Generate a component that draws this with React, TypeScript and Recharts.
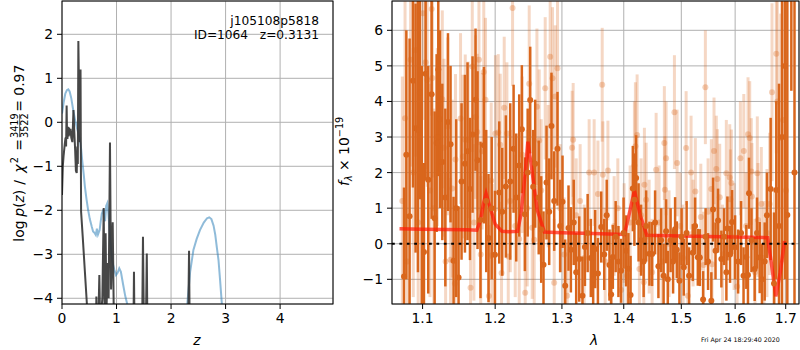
import React from "react";
import { ComposedChart, Line, Scatter, ErrorBar, XAxis, YAxis, CartesianGrid, ReferenceLine } from "recharts";

// ---- left panel: log p(z) ----
const zTicks = [0, 1, 2, 3, 4];
const logpTicks = [-4, -3, -2, -1, 0, 1, 2];

// template fit p(z), blue
const pzTemplate: [number, number][] = [
  [0.0, 0.2], [0.03, 0.45], [0.06, 0.65], [0.09, 0.73], [0.115, 0.75], [0.14, 0.7], [0.17, 0.55],
  [0.2, 0.32], [0.24, 0.05], [0.28, -0.15], [0.31, -0.3], [0.33, -0.42], [0.35, -0.6], [0.37, -0.86],
  [0.4, -1.2], [0.42, -1.46], [0.45, -1.75], [0.48, -2.0], [0.51, -2.2], [0.545, -2.37], [0.57, -2.48],
  [0.6, -2.52], [0.62, -2.56], [0.64, -2.42], [0.66, -2.55], [0.69, -2.45], [0.71, -2.25], [0.73, -2.08],
  [0.76, -1.98], [0.79, -2.25], [0.81, -1.9], [0.83, -1.84], [0.85, -2.05], [0.87, -2.4], [0.89, -2.75],
  [0.92, -3.15], [0.96, -3.35], [0.99, -3.47], [1.02, -3.42], [1.05, -3.32], [1.08, -3.4], [1.12, -3.68],
  [1.16, -3.95], [1.2, -4.15], [1.24, -4.7], [1.3, -6], [2.2, -6], [2.27, -4.6], [2.3, -4.1], [2.35, -3.4],
  [2.41, -2.9], [2.47, -2.65], [2.53, -2.45], [2.6, -2.28], [2.66, -2.18], [2.7, -2.16], [2.74, -2.2],
  [2.78, -2.35], [2.81, -2.55], [2.84, -2.85], [2.87, -3.13], [2.9, -3.6], [2.93, -4.1], [2.96, -4.6],
  [3.05, -6], [4.97, -6],
];

// chi2 based p(z), dark
const pzChi2: [number, number][] = [
  [0.0, -1.65], [0.015, -1.0], [0.03, -0.75], [0.05, -0.5], [0.065, -0.35], [0.075, -0.55], [0.085, 0.38],
  [0.092, -0.25], [0.1, -0.38], [0.11, -0.1], [0.12, -0.32], [0.13, -0.12], [0.14, -0.3], [0.155, -0.15],
  [0.17, -0.35], [0.19, -0.45], [0.21, 0.28], [0.225, -0.2], [0.24, -0.6], [0.255, -1.1], [0.27, -1.15],
  [0.28, -0.55], [0.29, -0.95], [0.3, 1.85], [0.31, 0.9], [0.32, -0.35], [0.33, -0.45], [0.34, 1.2],
  [0.35, -2.03], [0.38, -2.6], [0.42, -3.4], [0.46, -4.2], [0.5, -5.5], [0.61, -6], [0.63, -3.96],
  [0.645, -5], [0.67, -4.3], [0.685, -3.47], [0.7, -4.6], [0.74, -4.0], [0.765, -1.95], [0.78, -4.3],
  [0.8, -2.52], [0.815, -4.3], [0.84, -3.2], [0.855, -4.0], [0.88, -0.46], [0.9, -3.8], [0.93, -2.27],
  [0.95, -4.4], [0.97, -6], [1.3, -6], [1.32, -3.4], [1.34, -6], [1.46, -6], [1.485, -2.6], [1.505, -5],
  [1.535, -5], [1.555, -2.98], [1.575, -6], [2.3, -6], [2.33, -2.92], [2.35, -6], [4.97, -6],
];

// ---- right panel: spectrum ----
const lamTicks = [1.1, 1.2, 1.3, 1.4, 1.5, 1.6, 1.7];
const fluxTicks = [-1, 0, 1, 2, 3, 4, 5, 6];

// [lambda, flux, err]
const specMain: [number, number, number][] = [
  [1.0758, -0.92, 2.5], [1.0788, 2.5, 3.5], [1.083, 0.77, 5], [1.0874, 4.58, 3], [1.0908, 3.25, 3.5],
  [1.0939, 3.2, 4], [1.0965, 4.25, 3], [1.0989, 1.5, 3.5], [1.1018, -0.23, 2.5], [1.104, 4.78, 3],
  [1.1075, 1.8, 3.2], [1.112, 4.2, 3.5], [1.116, 0.72, 3], [1.1187, 2.83, 2.5], [1.1209, 4.9, 3],
  [1.1232, 3.5, 2.5], [1.1263, 2.3, 2.2], [1.1304, 1.3, 2.5], [1.134, 3.42, 2.5], [1.1375, 2.8, 2.2],
  [1.1416, -0.48, 1.8], [1.1453, 1.0, 2.5], [1.1485, -0.95, 2], [1.1526, 1.75, 2.2], [1.1573, 2.25, 2.5],
  [1.1609, 2.6, 2.5], [1.1643, 1.54, 2], [1.1679, 3.07, 2.2], [1.1721, 4.05, 2], [1.1749, 2.35, 2.5],
  [1.1791, 0.67, 2.2], [1.184, 2.77, 2.2], [1.1872, 1.2, 2], [1.1905, 0.16, 1.8], [1.195, 1.0, 2],
  [1.1997, -0.31, 1.8], [1.2059, 1.44, 2], [1.2102, 0.9, 1.8], [1.2155, 1.61, 2], [1.2219, 1.75, 2.2],
  [1.2268, 2.67, 1.8], [1.2307, 1.3, 1.8], [1.2351, 2.2, 2], [1.239, 3.22, 1.8], [1.2435, 0.83, 1.6],
  [1.2477, 2.0, 1.8], [1.2515, 4.04, 1.5], [1.256, 1.6, 1.6], [1.259, 2.25, 1.8], [1.2643, 1.3, 1.6],
  [1.2681, 0.4, 1.5], [1.2716, -0.59, 1.5], [1.2762, 1.72, 1.6], [1.2803, 0.9, 1.5], [1.2838, 3.31, 1.5],
  [1.288, 1.2, 1.4], [1.2931, 2.67, 1.6], [1.2973, 0.5, 1.3], [1.3009, 1.18, 1.3], [1.3051, -1.18, 1.3],
  [1.3103, 0.44, 1.2], [1.314, -0.17, 1.2], [1.3185, 0.6, 1.2], [1.3224, -0.8, 1.1], [1.3272, -0.43, 1.2],
  [1.3324, -1.46, 1.1], [1.3363, -0.09, 1.1], [1.3407, 0.3, 1.1], [1.3458, -0.4, 1.1], [1.3496, -1.0, 1.0],
  [1.3528, -0.15, 1.1], [1.3573, -0.84, 1.0], [1.3627, 0.47, 1.0], [1.3676, -0.3, 1.0], [1.3717, 0.8, 1.0],
  [1.3762, -0.6, 1.0], [1.379, -1.43, 1.0], [1.3818, -0.37, 0.9], [1.3865, 0.2, 1.0], [1.3911, -0.5, 1.0],
  [1.3955, -0.76, 0.9], [1.3997, 0.3, 1.0], [1.4039, -0.2, 1.0], [1.4078, -0.7, 1.0], [1.4115, -1.44, 1.1],
  [1.4153, 1.55, 1.2], [1.418, 1.24, 1.3], [1.4209, 1.85, 1.2], [1.4251, 0.6, 1.1], [1.4294, 0.1, 1.0],
  [1.4338, -0.5, 1.0], [1.4381, 0.5, 1.0], [1.4438, -0.28, 0.9], [1.4484, -0.29, 0.9], [1.4536, 0.6, 0.9],
  [1.4594, -0.63, 0.9], [1.4641, 0.1, 0.9], [1.4685, -0.9, 0.9], [1.4729, 0.35, 0.9], [1.4759, -1.0, 0.8],
  [1.4809, 0.1, 0.9], [1.4853, -0.5, 0.9], [1.4889, 0.41, 0.9], [1.4919, -0.17, 0.8], [1.4966, -1.04, 0.8],
  [1.5005, 0.2, 0.8], [1.5045, -0.66, 0.8], [1.5096, 0.3, 0.9], [1.5141, -0.9, 0.8], [1.5208, -0.25, 0.8],
  [1.525, 0.5, 0.8], [1.53, -0.38, 0.8], [1.5337, -0.39, 0.8], [1.5397, -1.57, 0.8], [1.5443, 0.2, 0.8],
  [1.5489, -0.5, 0.8], [1.555, -1.6, 0.8], [1.5582, 0.96, 0.9], [1.5628, -0.2, 0.8], [1.5676, 0.65, 0.9],
  [1.5738, -0.43, 0.8], [1.5789, 0.2, 0.8], [1.5833, -0.8, 0.8], [1.5852, 0.43, 0.9], [1.5903, -0.3, 0.8],
  [1.5941, 0.61, 0.9], [1.5999, -0.1, 0.9], [1.6057, -0.5, 0.9], [1.6114, 0.3, 0.9], [1.6162, -0.9, 0.8],
  [1.6216, -0.37, 0.9], [1.6248, -0.88, 0.9], [1.6268, 1.42, 1.0], [1.6316, 0.1, 0.9], [1.6379, -0.71, 0.9],
  [1.6425, 0.3, 1.0], [1.6478, -0.39, 1.0], [1.6523, -1.0, 1.0], [1.6577, -0.5, 1.1], [1.6622, 0.8, 1.2],
  [1.6696, 1.54, 2.0], [1.6763, -1.12, 2.0], [1.6809, 1.51, 2.5], [1.6864, 0.5, 4], [1.6925, 3.0, 5],
  [1.6986, 5.0, 6], [1.7033, 0.81, 7], [1.7115, 6.9, 2.6], [1.718, 2.0, 7],
];

// second spectrum, drawn faint
const specOther: [number, number, number][] = [
  [1.0736, 1.2, 3.5], [1.0771, 3.53, 3.3], [1.0801, -0.5, 3], [1.0843, 5.17, 3], [1.0878, 2.0, 3.5],
  [1.0908, 5.45, 3], [1.0942, 0.6, 3], [1.1005, 6.48, 3], [1.104, 5.1, 3], [1.1062, 4.6, 3],
  [1.1098, 1.5, 3], [1.112, 6.6, 3], [1.1129, 4.66, 2.8], [1.1149, 1.0, 2.8], [1.1196, 3.0, 2.5],
  [1.1263, 4.06, 2.5], [1.1286, 2.7, 2.5], [1.1308, -0.5, 2.5], [1.1337, 3.3, 2.5], [1.1375, -0.45, 2.3],
  [1.1398, 1.55, 2.5], [1.1435, -1.12, 2.2], [1.1443, 2.37, 2.4], [1.1512, 3.52, 2.4], [1.1545, 2.45, 2.3],
  [1.1577, 2.92, 2.4], [1.1619, 2.92, 2.2], [1.1651, -1.24, 2.2], [1.1675, 4.98, 2.4], [1.1698, 0.6, 2.2],
  [1.1721, 3.56, 2.3], [1.1745, 3.14, 2.2], [1.1769, 5.17, 2.4], [1.1794, -0.3, 2.2], [1.1815, 2.6, 2.2],
  [1.1837, 4.83, 2.3], [1.1862, 4.05, 2.3], [1.191, -1.47, 2.0], [1.1943, 1.77, 2.2], [1.1957, -0.32, 2.0],
  [1.2004, 3.1, 2.2], [1.2044, 3.13, 2.2], [1.2073, 2.78, 2], [1.2092, -0.82, 2], [1.2131, 3.82, 2],
  [1.217, 3.1, 2], [1.219, -0.36, 2], [1.2219, 1.2, 2], [1.2253, 6.63, 2.2], [1.2292, 0.5, 2],
  [1.2351, 0.13, 2], [1.2395, 2.5, 2.2], [1.244, -1.38, 2], [1.247, 1.0, 2.2], [1.25, 4.5, 2.2],
  [1.2545, 0.45, 2], [1.2575, 0.11, 2], [1.2616, 3.85, 2.2], [1.2651, 2.9, 2], [1.2681, 1.5, 2],
  [1.2742, 4.37, 2], [1.2787, 1.9, 2], [1.2818, 5.26, 2], [1.2854, 4.65, 2], [1.288, -1.1, 1.8],
  [1.2896, 4.14, 2], [1.2931, 4.93, 2], [1.2973, 1.0, 1.8], [1.3035, -0.3, 1.6], [1.3082, -1.46, 1.5],
  [1.316, 2.7, 1.6], [1.3176, 2.92, 1.6], [1.3224, 0.8, 1.6], [1.3287, 1.2, 1.6], [1.3351, -0.4, 1.5],
  [1.3431, 2.0, 1.5], [1.3512, 2.0, 1.5], [1.3573, 1.4, 1.5], [1.3643, 4.47, 1.6], [1.3654, 1.94, 1.5],
  [1.3692, -0.5, 1.5], [1.3737, 2.06, 1.4], [1.379, -1.0, 1.4], [1.384, 0.5, 1.4], [1.3901, 1.0, 1.4],
  [1.3956, -1.3, 1.3], [1.4006, 0.3, 1.4], [1.4056, -0.9, 1.3], [1.4107, 0.6, 1.6], [1.418, 2.2, 1.8],
  [1.4197, 2.74, 1.8], [1.4226, 3.06, 1.7], [1.4265, -0.71, 1.6], [1.4294, 0.8, 1.6], [1.4341, -1.08, 1.5],
  [1.4351, 1.66, 1.6], [1.4381, 1.24, 1.6], [1.4433, 0.2, 1.6], [1.4484, -0.8, 1.5], [1.4554, 2.08, 1.6],
  [1.4606, 0.6, 1.6], [1.4658, -0.5, 1.5], [1.4698, 2.83, 1.6], [1.4707, 1.52, 1.5], [1.4729, 2.4, 1.6],
  [1.4782, 0.0, 1.5], [1.4877, 3.7, 1.6], [1.4925, 2.27, 1.5], [1.4978, 0.5, 1.5], [1.5032, -0.4, 1.5],
  [1.5087, 2.69, 1.6], [1.5117, -1.46, 1.4], [1.5177, 2.0, 1.6], [1.5213, 0.3, 1.5], [1.5255, 1.47, 1.5],
  [1.5355, 0.75, 1.5], [1.5406, -0.6, 1.5], [1.5439, 4.4, 1.6], [1.5489, 0.9, 1.5], [1.555, 1.54, 1.4],
  [1.5563, -0.58, 1.5], [1.56, 2.61, 1.5], [1.5643, 2.1, 1.5], [1.5662, 1.82, 1.4], [1.5707, 1.31, 1.5],
  [1.576, -0.3, 1.4], [1.5832, 1.98, 1.5], [1.5897, 1.86, 1.5], [1.5909, 1.25, 1.4], [1.5928, 1.71, 1.5],
  [1.598, 0.2, 1.5], [1.6038, -1.2, 1.4], [1.6101, 2.4, 1.6], [1.6167, 2.61, 1.6], [1.6211, 0.5, 1.5],
  [1.6249, 3.08, 1.6], [1.6282, 2.97, 1.6], [1.6313, 2.03, 1.5], [1.6326, 1.33, 1.5], [1.6385, -0.8, 1.5],
  [1.6431, 1.98, 1.6], [1.6444, 0.67, 1.6], [1.651, 1.12, 1.6], [1.6563, -0.4, 1.6], [1.6622, 0.3, 1.8],
  [1.6676, 1.12, 2], [1.6723, 4.26, 2.5], [1.6773, -1.0, 2.5], [1.6809, 5.34, 2.8], [1.683, 4.0, 3],
  [1.6898, 2.97, 3.5], [1.6945, 3.48, 4], [1.7006, 1.5, 6],
];

// best fit model
const specModel: [number, number][] = [
  [1.07, 0.42], [1.1, 0.41], [1.13, 0.4], [1.16, 0.39], [1.1739, 0.38], [1.179, 0.65], [1.1835, 1.15],
  [1.187, 1.41], [1.1915, 1.1], [1.2, 0.55], [1.2097, 0.35], [1.22, 0.34], [1.2326, 0.35], [1.238, 0.85],
  [1.2435, 1.9], [1.248, 2.87], [1.2545, 2.0], [1.262, 0.95], [1.273, 0.33], [1.3, 0.31], [1.35, 0.29],
  [1.4011, 0.26], [1.408, 0.75], [1.418, 1.49], [1.428, 0.8], [1.4392, 0.24], [1.5, 0.22], [1.6, 0.19],
  [1.6636, 0.17], [1.671, -0.55], [1.68, -1.48], [1.689, -0.8], [1.6975, 0.08],
];

const FONT = "DejaVu Sans";
const tickStyle = { fontSize: 13.9, fill: "#000", fontFamily: FONT };
const minus = (v: number) => (v < 0 ? `\u2212${Math.abs(v)}` : `${v}`);
const ORANGE = "#d9661c";
const F_MIN = -1.694;
const F_MAX = 6.824;

const toZ = (a: [number, number][]) => a.map(([z, v]) => ({ z, v }));
// errorbars are not clipped by recharts, so trim them to the axes box here
const toSpec = (a: [number, number, number][]) =>
  a.map(([lam, f, e]) => {
    const lo = Math.max(f - e, F_MIN);
    const hi = Math.min(f + e, F_MAX);
    return { lam, f, e: [f - lo, hi - f] };
  });

const dot = (opacity: number) => (p: any) =>
  p.payload.f > F_MAX || p.payload.f < F_MIN ? <g /> : (
    <circle cx={p.cx} cy={p.cy} r={3} fill={ORANGE} fillOpacity={opacity} />
  );

function PzPanel() {
  return (
    <ComposedChart width={340} height={350} margin={{ top: 1, right: 7, bottom: 16, left: 0 }}>
      <CartesianGrid stroke="#b0b0b0" strokeWidth={1} />
      <XAxis
        type="number"
        dataKey="z"
        domain={[0, 4.97]}
        ticks={zTicks}
        interval={0}
        allowDataOverflow
        height={30}
        tickSize={5}
        tickMargin={4}
        axisLine={false}
        tickLine={{ stroke: "#000" }}
        tick={tickStyle}
      />
      <YAxis
        type="number"
        domain={[-4.13, 2.757]}
        ticks={logpTicks}
        interval={0}
        allowDataOverflow
        width={62}
        tickSize={5}
        tickMargin={4}
        axisLine={false}
        tickLine={{ stroke: "#000" }}
        tick={tickStyle}
        tickFormatter={minus}
      />
      <Line data={toZ(pzTemplate)} dataKey="v" type="linear" stroke="#1f77b4" strokeOpacity={0.5} strokeWidth={2} dot={false} isAnimationActive={false} />
      <Line data={toZ(pzChi2)} dataKey="v" type="linear" stroke="#333" strokeOpacity={0.9} strokeWidth={2} dot={false} isAnimationActive={false} />
    </ComposedChart>
  );
}

function SpecPanel() {
  return (
    <ComposedChart width={460} height={350} margin={{ top: 1, right: 1, bottom: 16, left: 0 }}>
      <CartesianGrid stroke="#b0b0b0" strokeWidth={1} />
      <XAxis
        type="number"
        dataKey="lam"
        scale="log"
        domain={[1.0604, 1.7273]}
        ticks={lamTicks}
        interval={0}
        allowDataOverflow
        height={30}
        tickSize={5}
        tickMargin={4}
        axisLine={false}
        tickLine={{ stroke: "#000" }}
        tick={tickStyle}
        tickFormatter={(v: number) => v.toFixed(1)}
      />
      <YAxis
        type="number"
        dataKey="f"
        domain={[F_MIN, F_MAX]}
        ticks={fluxTicks}
        interval={0}
        allowDataOverflow
        width={52}
        tickSize={5}
        tickMargin={4}
        axisLine={false}
        tickLine={{ stroke: "#000" }}
        tick={tickStyle}
        tickFormatter={minus}
      />
      <Scatter data={toSpec(specOther)} shape={dot(0.3)} isAnimationActive={false}>
        <ErrorBar dataKey="e" direction="y" width={0} stroke={ORANGE} strokeOpacity={0.26} strokeWidth={3} />
      </Scatter>
      <Scatter data={toSpec(specMain)} shape={dot(1)} isAnimationActive={false}>
        <ErrorBar dataKey="e" direction="y" width={0} stroke={ORANGE} strokeWidth={2.5} />
      </Scatter>
      <Line
        data={specModel.map(([lam, f]) => ({ lam, f }))}
        dataKey="f"
        type="linear"
        stroke="#ff1a0a"
        strokeOpacity={0.72}
        strokeWidth={3.5}
        dot={false}
        isAnimationActive={false}
      />
      <ReferenceLine y={0} stroke="#000" strokeWidth={2.2} strokeDasharray="2.8 4.6" />
    </ComposedChart>
  );
}

export default function App() {
  return (
    <div style={{ position: "absolute", left: 0, top: 0, width: 800, height: 350, background: "#fff", fontFamily: FONT }}>
      <div style={{ position: "absolute", left: 0, top: 0 }}>
        <PzPanel />
      </div>
      <div style={{ position: "absolute", left: 340, top: 0 }}>
        <SpecPanel />
      </div>
      <svg width={800} height={350} style={{ position: "absolute", left: 0, top: 0, pointerEvents: "none" }} fontFamily={FONT}>
        <rect x={62} y={1} width={271} height={303} fill="none" stroke="#000" strokeWidth={1} />
        <rect x={392} y={1} width={407} height={303} fill="none" stroke="#000" strokeWidth={1} />

        <text x={319} y={25} textAnchor="end" fontSize={12.2}>j105108p5818</text>
        <text x={319} y={38.5} textAnchor="end" fontSize={12.2} style={{ whiteSpace: "pre" }}>{"ID=1064   z=0.3131"}</text>

        <text x={197} y={345} textAnchor="middle" fontSize={13.9} fontStyle="italic">z</text>
        <text x={594} y={345} textAnchor="middle" fontSize={13.9} fontStyle="italic">λ</text>

        <g transform="translate(24,241.7) rotate(-90)" fontSize={13.9}>
          <text x={0} y={0}>log</text>
          <text x={25} y={0}>
            <tspan fontStyle="italic">p</tspan>(<tspan fontStyle="italic">z</tspan>)
          </text>
          <text x={57} y={0}>/</text>
          <text x={69} y={0} fontStyle="italic">χ</text>
          <text x={78.5} y={-6} fontSize={9.7}>2</text>
          <text x={91} y={0}>=</text>
          <text x={116} y={-5.8} textAnchor="middle" fontSize={9.7}>3419</text>
          <line x1={104.5} x2={127.5} y1={-4.3} y2={-4.3} stroke="#000" strokeWidth={0.7} />
          <text x={116} y={4} textAnchor="middle" fontSize={9.7}>3522</text>
          <text x={130} y={0}>=</text>
          <text x={146} y={0}>0.97</text>
        </g>

        <g transform="translate(349,186) rotate(-90)" fontSize={13.9}>
          <text x={0} y={0}>
            <tspan fontStyle="italic">f</tspan>
            <tspan fontSize={9.7} dy={2.8} fontStyle="italic">λ</tspan>
            <tspan dy={-2.8}>{" × 10"}</tspan>
            <tspan fontSize={9.7} dy={-5.6}>−19</tspan>
          </text>
        </g>

        <text x={701} y={342} fontSize={6.3}>Fri Apr 24 18:29:40 2020</text>
      </svg>
    </div>
  );
}
